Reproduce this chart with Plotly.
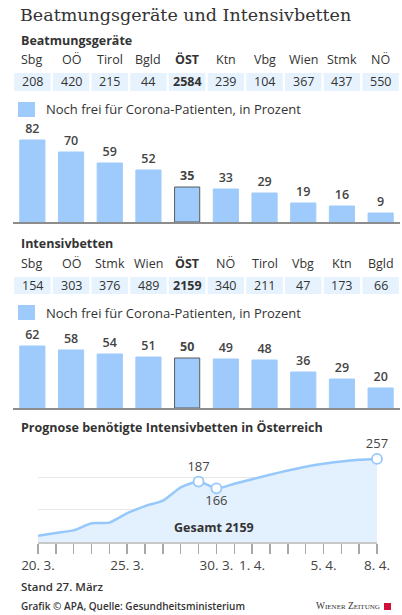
import plotly.graph_objects as go

# ---------------- data ----------------
beat_regions = ['Sbg', 'OÖ', 'Tirol', 'Bgld', 'ÖST', 'Ktn', 'Vbg', 'Wien', 'Stmk', 'NÖ']
beat_total = [208, 420, 215, 44, 2584, 239, 104, 367, 437, 550]
beat_free_pct = [82, 70, 59, 52, 35, 33, 29, 19, 16, 9]

icu_regions = ['Sbg', 'OÖ', 'Stmk', 'Wien', 'ÖST', 'NÖ', 'Tirol', 'Vbg', 'Ktn', 'Bgld']
icu_total = [154, 303, 376, 489, 2159, 340, 211, 47, 173, 66]
icu_free_pct = [62, 58, 54, 51, 50, 49, 48, 36, 29, 20]

prog_dates = ['2020-03-20', '2020-03-21', '2020-03-22', '2020-03-23', '2020-03-24',
              '2020-03-25', '2020-03-26', '2020-03-27', '2020-03-28', '2020-03-29',
              '2020-03-30', '2020-03-31', '2020-04-01', '2020-04-02', '2020-04-03',
              '2020-04-04', '2020-04-05', '2020-04-06', '2020-04-07', '2020-04-08']
prog_values = [19, 28, 36, 58, 60, 89, 111, 128, 169, 187,
               166, 180, 194, 208, 221, 233, 242, 249, 254, 257]
prog_tick_labels = ['20. 3.', '', '', '', '', '25. 3.', '', '', '', '',
                    '30. 3.', '', '1. 4.', '', '', '', '5. 4.', '', '', '8. 4.']
prog_highlight = ['2020-03-29', '2020-03-30', '2020-04-08']
prog_highlight_values = [187, 166, 257]
total_icu = 2159

# ---------------- style ----------------
W, H = 402, 615
BAR = '#9ecbfb'
CELL = '#e6f2fd'
TXT = '#333333'
FONT = 'Open Sans'

def py(p):  # pixel y -> paper y
    return 1 - p / H

def px(p):
    return p / W

fig = go.Figure()

def bold_if(lbl, s):
    return f'<b>{s}</b>' if lbl == 'ÖST' else str(s)

# bar chart 1
fig.add_trace(go.Bar(
    x=beat_regions, y=beat_free_pct, xaxis='x', yaxis='y',
    marker=dict(color=BAR,
                line=dict(color=['#5a5a5a' if r == 'ÖST' else BAR for r in beat_regions], width=1)),
    text=[bold_if(r, v) for r, v in zip(beat_regions, beat_free_pct)],
    textposition='outside', textfont=dict(family=FONT, size=12.5, color='#444', weight=600),
    cliponaxis=False, hoverinfo='skip', showlegend=False))

# bar chart 2
fig.add_trace(go.Bar(
    x=icu_regions, y=icu_free_pct, xaxis='x2', yaxis='y2',
    marker=dict(color=BAR,
                line=dict(color=['#5a5a5a' if r == 'ÖST' else BAR for r in icu_regions], width=1)),
    text=[bold_if(r, v) for r, v in zip(icu_regions, icu_free_pct)],
    textposition='outside', textfont=dict(family=FONT, size=12.5, color='#444', weight=600),
    cliponaxis=False, hoverinfo='skip', showlegend=False))

# line chart
fig.add_trace(go.Scatter(
    x=prog_dates, y=prog_values, xaxis='x3', yaxis='y3', mode='lines',
    line=dict(color='#96c8fb', width=2.5, shape='spline', smoothing=0.6),
    fill='tozeroy', fillcolor='#e3f0fd', cliponaxis=False,
    hoverinfo='skip', showlegend=False))
fig.add_trace(go.Scatter(
    x=prog_highlight, y=prog_highlight_values, xaxis='x3', yaxis='y3',
    mode='markers+text', text=[str(v) for v in prog_highlight_values],
    textposition=['top center', 'bottom center', 'top center'],
    textfont=dict(family=FONT, size=13, color='#444'),
    marker=dict(size=10, color='white', line=dict(color='#96c8fb', width=1.8)),
    cliponaxis=False, hoverinfo='skip', showlegend=False))

bar_dom_x = [px(13), px(400)]
fig.update_layout(
    width=W, height=H, autosize=False,
    margin=dict(l=0, r=0, t=0, b=0, pad=0, autoexpand=False),
    paper_bgcolor='white', plot_bgcolor='rgba(0,0,0,0)',
    bargap=0.35, showlegend=False,
    font=dict(family=FONT, color=TXT),
    xaxis=dict(domain=bar_dom_x, anchor='y', showticklabels=False, ticks='', automargin=False,
               showline=True, linecolor='#8c8c8c', linewidth=2, showgrid=False, fixedrange=True),
    yaxis=dict(domain=[py(222), py(132)], anchor='x', range=[0, 90], visible=False, automargin=False),
    xaxis2=dict(domain=bar_dom_x, anchor='y2', showticklabels=False, ticks='', automargin=False,
                showline=True, linecolor='#8c8c8c', linewidth=2, showgrid=False),
    yaxis2=dict(domain=[py(408), py(330)], anchor='x2', range=[0, 78], visible=False, automargin=False),
    xaxis3=dict(domain=[px(38), px(377)], anchor='y3', type='date', automargin=False,
                range=[prog_dates[0], prog_dates[-1]],
                tickmode='array', tickvals=prog_dates, ticktext=prog_tick_labels,
                ticks='outside', ticklen=10, tickwidth=1.5, tickcolor='#a8a8a8',
                showline=True, linecolor='#c8c8c8', linewidth=1.5, showgrid=False,
                tickfont=dict(family=FONT, size=13.5, color='#444')),
    yaxis3=dict(domain=[py(542), py(445)], anchor='x3', range=[0, 300], automargin=False,
                tickmode='array', tickvals=[100, 200, 300], showticklabels=False,
                gridcolor='#e8e8e8', gridwidth=1, zeroline=False, showline=False),
)

ann = []
shapes = []

def text(x, y, s, size, color=TXT, family=FONT, xanchor='left', xref='paper', weight=None):
    f = dict(family=family, size=size, color=color)
    if weight:
        f['weight'] = weight
    ann.append(dict(x=x, y=y, xref=xref, yref='paper', text=s, showarrow=False,
                    xanchor=xanchor, yanchor='middle', font=f))

text(px(18), py(15), 'Beatmungsgeräte und Intensivbetten', 17.5, '#333', 'DejaVu Serif')
text(px(19), py(41), '<b>Beatmungsgeräte</b>', 12.5)
text(px(19), py(243), '<b>Intensivbetten</b>', 12.5)
text(px(19), py(427), '<b>Prognose benötigte Intensivbetten in Österreich</b>', 12.5)

def table(regions, totals, xref, y_lbl, y_cell0, y_cell1):
    for i, (r, t) in enumerate(zip(regions, totals)):
        text(r, py(y_lbl), bold_if(r, r), 12.5, xanchor='center', xref=xref)
        shapes.append(dict(type='rect', xref=xref, yref='paper',
                           x0=i - 0.47, x1=i + 0.47, y0=py(y_cell1), y1=py(y_cell0),
                           fillcolor=CELL, line=dict(width=0), layer='below'))
        text(r, py((y_cell0 + y_cell1) / 2), bold_if(r, t), 12.5, xanchor='center', xref=xref)

table(beat_regions, beat_total, 'x', 60, 73, 91)
table(icu_regions, icu_total, 'x2', 263, 277, 294)

for y0, y1 in [(102, 117), (305, 320)]:
    shapes.append(dict(type='rect', xref='paper', yref='paper', x0=px(18), x1=px(35),
                       y0=py(y1), y1=py(y0), fillcolor=BAR, line=dict(width=0)))
    text(px(44), py((y0 + y1) / 2), 'Noch frei für Corona-Patienten, in Prozent', 13)

text(px(214), py(527), f'<b>Gesamt {total_icu}</b>', 12.5, xanchor='center')
text(px(19), py(586), 'Stand 27. März', 11.5, weight=600)
text(px(19), py(606), 'Grafik © APA, Quelle: Gesundheitsministerium', 10, weight=600)
text(px(382), py(606),
     'W<span style="font-size:7px">IENER</span> Z<span style="font-size:7px">EITUNG</span>',
     9.5, '#333', 'Liberation Serif', xanchor='right')
shapes.append(dict(type='rect', xref='paper', yref='paper', x0=px(384), x1=px(391),
                   y0=py(610), y1=py(603), fillcolor='#d0103a', line=dict(width=0)))

fig.update_layout(annotations=ann, shapes=shapes)
fig.write_html('out.html', config={'displayModeBar': False, 'staticPlot': True},
               post_script="document.body.style.margin='0';document.body.style.overflow='hidden';")
